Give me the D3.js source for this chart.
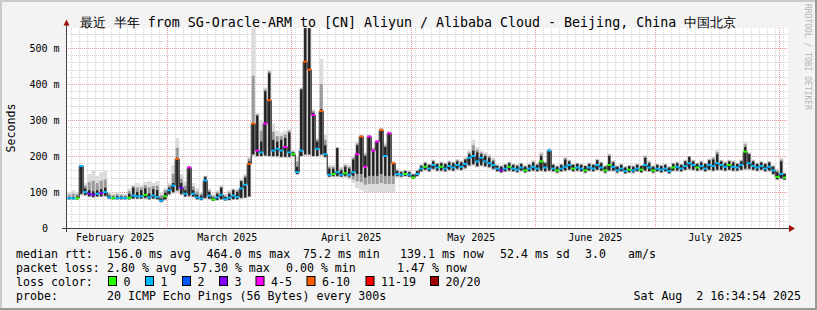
<!DOCTYPE html>
<html><head><meta charset="utf-8">
<script src="https://cdn.jsdelivr.net/npm/d3@7"></script>
<style>
body{margin:0;background:#f3f3f3}
text{font-family:"DejaVu Sans Mono",monospace;fill:#000}
</style>
</head><body><svg id="c" width="817" height="310"></svg>
<script>
// ---- data (one value per day, starting 2025-02-04) ----
const firstDay = "2025-02-04";
const median = [
83,82,83,172,100,95,92,95,97,100,
85,83,83,84,83,84,90,88,88,92,
85,90,86,76,88,105,118,192,112,95,
168,95,85,82,132,90,79,85,92,80,
84,90,86,110,120,178,290,215,210,290,
355,215,220,215,225,210,205,155,215,462,
440,314,220,325,205,148,150,155,148,152,
148,155,205,254,170,254,215,240,272,200,
263,180,150,148,150,148,140,150,165,170,
165,175,168,170,165,172,168,175,170,178,
195,200,185,195,185,180,175,165,160,165,
170,165,162,168,160,165,170,165,185,168,
215,165,160,165,170,175,165,168,165,160,
168,165,175,168,160,175,170,160,165,158,
162,160,165,162,175,168,160,165,162,165,
158,168,170,165,172,180,175,168,172,165,
175,172,180,175,170,175,170,168,175,212,
180,172,168,172,165,170,160,142,150,140];
const darkLow = [
80,80,80,95,92,88,86,88,88,90,
82,80,80,80,80,80,82,82,82,84,
80,82,80,73,80,95,100,105,95,88,
90,88,80,78,84,82,76,78,80,77,
78,80,80,84,85,88,205,200,200,202,
200,200,200,198,198,198,200,150,200,205,
205,200,200,205,198,143,145,145,143,145,
143,145,150,150,140,145,145,145,150,145,
145,145,145,143,145,143,138,145,158,162,
158,165,160,160,158,162,160,165,162,168,
175,178,172,175,172,170,165,158,155,158,
160,158,156,160,155,158,160,158,160,158,
160,158,155,158,160,162,158,160,158,155,
160,158,162,160,155,160,160,155,158,152,
155,155,158,155,160,158,155,158,155,158,
152,160,160,158,162,165,162,160,162,158,
162,160,162,162,160,162,160,160,162,165,
165,162,160,162,158,160,150,136,138,135];
const darkHigh = [
86,86,88,172,110,105,102,105,108,112,
90,87,88,88,87,95,112,100,105,110,
96,108,105,82,98,112,125,195,125,105,
170,105,92,90,142,100,84,95,112,86,
95,105,100,130,140,185,290,312,240,380,
430,245,240,245,250,265,210,170,385,555,
555,320,240,330,230,165,165,222,160,170,
165,190,230,254,200,254,217,240,272,225,
263,180,158,155,158,155,148,158,172,180,
175,185,178,180,178,182,180,185,182,190,
205,215,210,205,200,195,185,172,170,175,
180,175,172,178,170,175,182,175,200,180,
215,175,170,175,190,185,175,178,175,172,
178,175,188,180,170,200,182,170,175,168,
172,170,175,172,195,180,170,175,172,175,
168,178,180,175,185,198,185,178,182,178,
188,190,205,185,180,185,182,178,185,225,
205,185,178,182,178,182,170,155,185,150];
const smokeLow = [
78,78,78,90,88,85,84,85,85,86,
80,78,78,78,78,78,80,80,80,80,
78,80,78,70,76,90,95,100,90,85,
85,84,78,76,80,78,74,76,78,75,
76,78,78,80,82,85,200,198,198,198,
198,196,196,195,195,195,198,148,198,200,
200,198,198,200,195,140,140,140,140,140,
135,125,110,105,100,100,100,100,100,100,
100,100,140,140,142,140,135,142,155,158,
155,160,156,156,155,158,156,160,158,162,
170,172,168,170,168,165,160,155,152,155,
156,155,152,156,152,155,156,155,156,155,
156,155,150,155,156,158,155,156,155,150,
156,155,158,156,150,156,156,150,155,150,
152,150,155,152,156,155,150,155,152,155,
150,156,156,155,158,160,158,156,158,155,
158,156,158,158,156,158,156,156,158,160,
160,158,156,158,155,156,148,132,135,132];
const smokeHigh = [
100,105,100,175,125,150,160,145,155,158,
100,95,100,96,94,110,120,125,120,128,
130,125,130,100,112,125,175,250,150,130,
172,125,110,100,145,110,95,105,118,95,
105,110,108,135,150,200,555,320,300,390,
440,290,270,265,270,275,215,200,390,555,
555,330,250,470,260,175,175,225,170,180,
175,200,240,260,210,260,225,245,280,235,
270,185,165,160,162,160,152,162,178,185,
180,190,182,185,182,188,185,192,188,195,
215,245,225,215,210,205,195,178,175,180,
185,180,178,182,175,180,188,180,212,185,
222,180,175,180,198,190,180,182,180,175,
182,180,192,185,175,207,188,175,180,172,
175,175,180,176,203,188,175,180,176,180,
172,182,185,180,190,200,190,182,188,182,
192,200,217,190,185,190,188,182,190,240,
210,190,182,186,182,186,175,165,195,155];
const lossClass = [
1,1,0,1,1,3,3,1,3,1,
1,0,1,1,1,0,1,1,1,0,
1,1,1,1,0,1,1,5,3,1,
4,1,1,1,1,1,0,1,1,1,
1,1,1,1,1,5,5,4,1,4,
5,1,1,1,4,1,0,1,1,5,
5,4,1,5,1,1,0,1,1,0,
1,1,4,5,4,4,4,4,5,1,
4,5,1,1,0,1,0,1,1,0,
1,1,1,0,1,1,1,1,1,1,
1,1,1,1,1,1,1,1,3,1,
0,1,1,1,0,1,1,1,0,1,
1,1,0,1,1,1,0,1,1,0,
1,1,1,1,0,0,1,1,1,1,
0,1,1,0,1,1,0,1,1,1,
1,0,1,1,1,1,1,0,1,1,
1,1,1,1,1,0,1,1,1,0,
1,1,1,1,1,1,1,0,1,0];
const lossLabels = ["0","1","2","3","4-5","6-10","11-19","20/20"];
const lossColors = ["#26ff00","#00b8ff","#0059ff","#7e00ff","#ff00ff","#ff5e00","#ff0000","#a10000"];
const yTicks = [0,100,200,300,400,500];
const monthTicks = ["2025-03-01","2025-04-01","2025-05-01","2025-06-01","2025-07-01","2025-08-01"];
const monthLabelDays = ["2025-02-16","2025-03-16","2025-04-16","2025-05-16","2025-06-16","2025-07-16"];
const titleParts = [["最近","cjk"],[" ","a"],["半年","cjk"],[" from SG-Oracle-ARM to [CN] Aliyun / Alibaba Cloud - Beijing, China ","a"],["中国北京","cjk"]];
const legendRtt = [["median rtt:",16],["156.0 ms avg",107],["464.0 ms max",206.5],["75.2 ms min",303],["139.1 ms now",400],["52.4 ms sd",500],["3.0",585],["am/s",628]];
const legendLoss = [["packet loss:",16],["2.80 % avg",107],["57.30 % max",193],["0.00 % min",286],["1.47 % now",397]];
const probeText = "20 ICMP Echo Pings (56 Bytes) every 300s";
const stampText = "Sat Aug  2 16:34:54 2025";

// ---- drawing ----
const W=817,H=310;
const svg=d3.select("#c");
const parse=d3.timeParse("%Y-%m-%d");
const tEnd=new Date(2025,7,2,16,34,54), tStart=d3.timeDay.offset(tEnd,-180);
const x=d3.scaleTime().domain([tStart,tEnd]).range([66,786]);
const y=d3.scaleLinear().domain([0,555.6]).range([228,28]);
const days=median.map((_,i)=>d3.timeDay.offset(parse(firstDay),i));

// background & frame
svg.append("rect").attr("width",W).attr("height",H).attr("fill","#f3f3f3");
svg.append("path").attr("d",`M0,0H${W}V2H2V${H}H0Z`).attr("fill","#cbcbcb");
svg.append("path").attr("d",`M${W},${H}H0V${H-2}H${W-2}V0H${W}Z`).attr("fill","#999999");
svg.append("rect").attr("x",66).attr("y",28).attr("width",722).attr("height",200).attr("fill","#fff");

// grid
const g=svg.append("g").attr("shape-rendering","crispEdges");
for(let v=20;v<555;v+=20){ if(v%100===0) continue;
  g.append("line").attr("x1",66).attr("x2",788).attr("y1",Math.round(y(v))+0.5).attr("y2",Math.round(y(v))+0.5)
   .attr("stroke","#d4d4d4").attr("stroke-dasharray","1,1");}
const minorDays=d3.timeDay.range(parse("2025-02-05"),parse("2025-08-04")).filter((d,i)=>i%2===0 && d.getDate()!==1);
minorDays.forEach(d=>{const xx=Math.round(x(d))+0.5; if(xx>68&&xx<788)
  g.append("line").attr("x1",xx).attr("x2",xx).attr("y1",28).attr("y2",228).attr("stroke","#d4d4d4").attr("stroke-dasharray","1,1");});
yTicks.filter(v=>v>0).forEach(v=>g.append("line").attr("x1",66).attr("x2",788).attr("y1",Math.round(y(v))+0.5).attr("y2",Math.round(y(v))+0.5)
   .attr("stroke","#e89a9a").attr("stroke-dasharray","1,1"));
monthTicks.forEach(s=>{const xx=Math.round(x(parse(s)))+0.5;
  g.append("line").attr("x1",xx).attr("x2",xx).attr("y1",28).attr("y2",228).attr("stroke","#e89a9a").attr("stroke-dasharray","1,1");});

// smoke + median
svg.append("clipPath").attr("id","pc").append("rect").attr("x",66).attr("y",28).attr("width",722).attr("height",200);
const s=svg.append("g").attr("clip-path","url(#pc)");
days.forEach((d,i)=>{
  const x0=x(d), x1=Math.min(x(d3.timeDay.offset(d,1)),786), w=x1-x0, cx=(x0+x1)/2;
  s.append("rect").attr("x",x0).attr("width",w).attr("y",y(smokeHigh[i])).attr("height",y(smokeLow[i])-y(smokeHigh[i])).attr("fill","#dcdcdc");
  const mh=(darkHigh[i]+smokeHigh[i])/2, ml=(darkLow[i]+smokeLow[i])/2;
  s.append("rect").attr("x",cx-1.5).attr("width",3).attr("y",y(mh)).attr("height",y(ml)-y(mh)).attr("fill","#9a9a9a");
  s.append("rect").attr("x",cx-1.1).attr("width",2.2).attr("y",y(darkHigh[i])).attr("height",Math.max(1,y(darkLow[i])-y(darkHigh[i]))).attr("fill","#1e1e1e");
});
// vertical joins of the median line
days.forEach((d,i)=>{ if(i===0) return;
  const xx=x(d);
  s.append("line").attr("x1",xx).attr("x2",xx).attr("y1",y(median[i-1])).attr("y2",y(median[i])).attr("stroke","#1e1e1e").attr("stroke-width",1);
});
days.forEach((d,i)=>{
  const x0=x(d), x1=Math.min(x(d3.timeDay.offset(d,1)),786);
  s.append("rect").attr("x",x0).attr("width",x1-x0).attr("y",y(median[i])-1).attr("height",2).attr("fill",lossColors[lossClass[i]]);
});

// axes
svg.append("line").attr("x1",62).attr("x2",790).attr("y1",228.5).attr("y2",228.5).attr("stroke","#404040");
svg.append("line").attr("x1",66.5).attr("x2",66.5).attr("y1",232).attr("y2",24).attr("stroke","#404040");
svg.append("path").attr("d","M789,225L795,228.5L789,232Z").attr("fill","#a01010");
svg.append("path").attr("d","M63.5,25.5L66.5,19.5L69.5,25.5Z").attr("fill","#a01010");

// y tick labels
yTicks.forEach(v=>svg.append("text").attr("x",v===0?48:59.5).attr("y",y(v)+4).attr("text-anchor","end")
  .attr("font-size","10px").text(v===0?"0":v+" m"));
// x labels
const fmt=d3.timeFormat("%B %Y");
monthLabelDays.forEach(s2=>{const d=parse(s2);
  svg.append("text").attr("x",x(d)).attr("y",241).attr("text-anchor","middle").attr("font-size","10px").text(fmt(d));});

// title
const tt=svg.append("text").attr("x",408).attr("y",26.5).attr("text-anchor","middle").attr("font-size","13.3px").style("white-space","pre");
titleParts.forEach(p=>tt.append("tspan").attr("font-size",p[1]==="cjk"?"12.6px":"13.3px").text(p[0]));

// y label
svg.append("text").attr("transform","translate(15,128) rotate(-90)").attr("text-anchor","middle").attr("font-size","11.6px").text("Seconds");
// watermark
svg.append("text").attr("transform","translate(804.5,4) rotate(90)").attr("font-size","8px").style("fill","#b4b4b4").text("RRDTOOL / TOBI OETIKER");

// legend
const lf="11.6px";
legendRtt.forEach(p=>svg.append("text").attr("x",p[1]).attr("y",258).attr("font-size",lf).text(p[0]));
legendLoss.forEach(p=>svg.append("text").attr("x",p[1]).attr("y",271.7).attr("font-size",lf).text(p[0]));
svg.append("text").attr("x",16).attr("y",285.5).attr("font-size",lf).text("loss color:");
const boxX=[108.5,145.5,182.5,219.5,256,307,366,430.5];
lossLabels.forEach((l,i)=>{
  svg.append("rect").attr("x",boxX[i]).attr("y",276.5).attr("width",8).attr("height",9).attr("fill",lossColors[i]).attr("stroke","#000").attr("stroke-width",1);
  svg.append("text").attr("x",boxX[i]+15).attr("y",285.5).attr("font-size",lf).text(l);
});
svg.append("text").attr("x",16).attr("y",299.5).attr("font-size",lf).text("probe:");
svg.append("text").attr("x",107).attr("y",299.5).attr("font-size",lf).text(probeText);
svg.append("text").attr("x",801).attr("y",299.5).attr("text-anchor","end").attr("font-size",lf).style("white-space","pre").text(stampText);
</script></body></html>
